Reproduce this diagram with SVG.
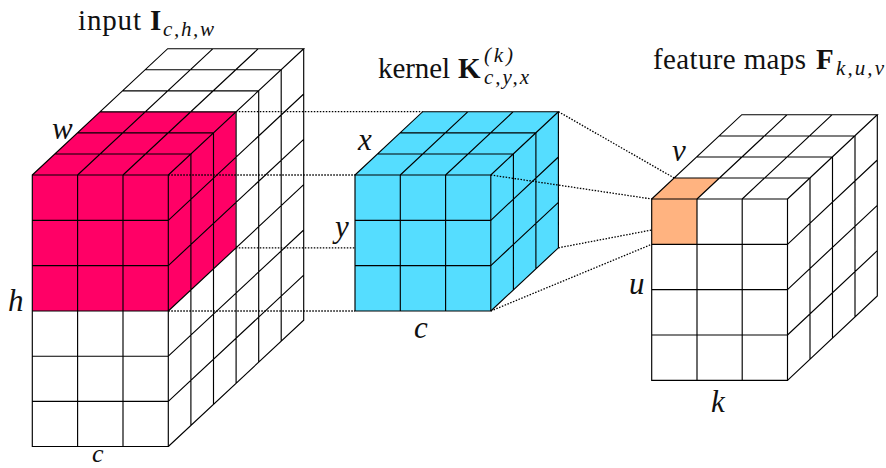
<svg xmlns="http://www.w3.org/2000/svg" width="886" height="468" viewBox="0 0 886 468">
<style>
.g{fill:none;stroke:#000;stroke-width:1.15;stroke-linejoin:miter}
.d{fill:none;stroke:#000;stroke-width:1.3;stroke-dasharray:1.5 1.5}
text{font-family:"Liberation Serif","Times New Roman",serif;fill:#111}
.t{font-size:29px}
.m{font-size:31px;font-style:italic}
.b{font-weight:bold}
.s{font-size:21px;font-style:italic}
</style>
<rect width="886" height="468" fill="#fff"/>
<g id="input-cube">
<path d="M32.3 175L100 111.7H235.8V247.8L168.3 311H32.3Z" fill="#ff0066"/>
<path class="g" d="M32.3 175H168.3V446.5H32.3ZM32.3 220.3H168.3M32.3 265.6H168.3M32.3 311H168.3M32.3 356.2H168.3M32.3 401.4H168.3M77.6 175V446.5M123 175V446.5"/>
<path class="g" d="M32.3 175L167.7 48.7H303.7L168.3 175M77.6 175L213 48.7M123 175L258.3 48.7M54.9 154H190.9M77.5 132.9H213.5M100 111.8H236.1M122.6 90.8H258.7M145.2 69.7H281.2"/>
<path class="g" d="M303.7 48.7V320.2L168.3 446.5M190.9 154V425.4M213.5 132.9V404.3M236.1 111.8V383.3M258.7 90.8V362.2M281.2 69.7V341.2M168.3 220.3L303.7 94M168.3 265.6L303.7 139.3M168.3 311L303.7 184.7M168.3 356.2L303.7 230M168.3 401.4L303.7 275.1"/>
<text class="t" x="78" y="30" textLength="63">input</text>
<text class="t b" x="150" y="30" textLength="12">I</text>
<text class="s" x="163" y="36" textLength="51">c,h,w</text>
<text class="m" x="52" y="139" textLength="20">w</text>
<text class="m" x="8" y="311" textLength="15">h</text>
<text class="m" x="92" y="462" style="font-size:26px">c</text>
</g>
<g id="kernel-cube">
<path d="M355 175L422.7 111.7H558.4V247.8L490.8 311H355Z" fill="#55ddff"/>
<path class="g" d="M355 175H490.8V311H355ZM355 220.3H490.8M355 265.6H490.8M400.3 175V311M445.6 175V311"/>
<path class="g" d="M355 175L422.7 111.7H558.4L490.8 175M400.3 175L468 111.7M445.6 175L513.3 111.7M377.6 154H513.4M400.1 132.8H535.9"/>
<path class="g" d="M558.4 111.7V247.8L490.8 311M513.4 154V290M535.9 132.8V268.9M490.8 220.3L558.4 157M490.8 265.6L558.4 202.4"/>
<text class="t" x="378" y="78" textLength="72">kernel</text>
<text class="t b" x="458" y="78" textLength="24">K</text>
<text class="s" x="484" y="62" textLength="29">(k)</text>
<text class="s" x="484" y="84" textLength="45">c,y,x</text>
<text class="m" x="358" y="150">x</text>
<text class="m" x="335" y="237">y</text>
<text class="m" x="414" y="338">c</text>
</g>
<g id="feature-cube">
<path d="M651.7 199H697V244.3H651.7Z" fill="#ffb380"/>
<path d="M651.7 199L674.2 178H719.6L697 199Z" fill="#ffb380"/>
<path class="g" d="M651.7 199H787.5V380.3H651.7ZM651.7 244.3H787.5M651.7 289.6H787.5M651.7 335H787.5M697 199V380.3M742.2 199V380.3"/>
<path class="g" d="M651.7 199L741.8 114.7H877.3L787.5 199M697 199L787.2 114.7M742.2 199L832.2 114.7M674.2 178H810M696.8 157H832.5M719.3 136H855"/>
<path class="g" d="M877.3 114.7V296L787.5 380.3M810 178V359.3M832.5 157V338.2M855 136V317.3M787.5 244.3L877.3 160M787.5 289.6L877.3 205.3M787.5 335L877.3 250.7"/>
<text class="t" x="653" y="69" textLength="153">feature maps</text>
<text class="t b" x="816" y="69" textLength="18">F</text>
<text class="s" x="836" y="75" textLength="48">k,u,v</text>
<text class="m" x="672" y="161">v</text>
<text class="m" x="629" y="294" textLength="16">u</text>
<text class="m" x="711" y="412">k</text>
</g>
<g id="connectors">
<path class="d" d="M235.8 111.7H422.7"/>
<path class="d" d="M168.3 175H355"/>
<path class="d" d="M235.8 247.8H355"/>
<path class="d" d="M168.3 311H355"/>
<path class="d" d="M558.4 111.7L674.2 178"/>
<path class="d" d="M490.8 175L651.7 199"/>
<path class="d" d="M558.4 247.8L651.7 230"/>
<path class="d" d="M490.8 311L651.7 244.3"/>
</g>
</svg>
